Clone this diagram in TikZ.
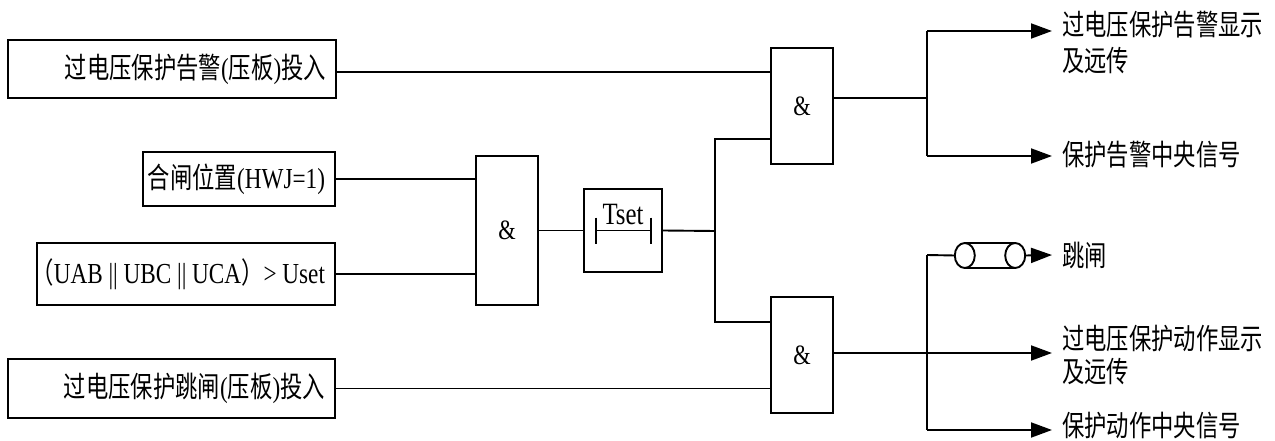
\documentclass[tikz,border=0pt]{standalone}
\usepackage{fontspec}
\setmainfont{Liberation Serif}[FakeStretch=0.8]
\newfontfamily\cjk{Noto Sans CJK SC}[FakeStretch=0.77]
\usetikzlibrary{arrows.meta}
\newcommand\zh[1]{{\cjk #1}}
\newcommand\rt[2]{\makebox[#1][r]{#2}}
\tikzset{
  wire/.style={line width=1.9pt},
  outarrow/.style={wire, -{Triangle[length=21pt,width=15pt]}},
  inbox/.style={draw, line width=1.9pt, inner xsep=10pt, inner ysep=0pt, font=\fontsize{29}{34}\selectfont},
  gate/.style={draw, line width=1.9pt, minimum width=62pt, minimum height=116pt, inner sep=0pt, font=\fontsize{28}{30}\selectfont},
  outtext/.style={anchor=west, align=left, inner sep=0pt, font=\cjk\fontsize{29}{36}\selectfont},
}
\begin{document}
\begin{tikzpicture}[x=1pt,y=-1pt]
\useasboundingbox (0,0) rectangle (1275,441);
% input boxes
\node[inbox, minimum height=58pt] (b1) at (172,69) {\rt{308pt}{\zh{过电压保护告警}(\zh{压板})\zh{投入}}};
\node[inbox, minimum height=54pt] (b2) at (239,179) {\rt{172pt}{\zh{合闸位置}(HWJ=1)}};
\node[inbox, minimum height=62pt] (b3) at (186,274) {\rt{278pt}{\zh{（}UAB || UBC || UCA\zh{）}> Uset}};
\node[inbox, minimum height=59pt] (b4) at (171.5,388.5) {\rt{307pt}{\zh{过电压保护跳闸}(\zh{压板})\zh{投入}}};
% gates
\node[gate] (g1) at (802,106) {\&};
\node[gate, minimum height=149pt] (gm) at (507,230.5) {\&};
\node[gate] (g2) at (802,355) {\&};
% timer
\node[draw, wire, minimum width=78pt, minimum height=83pt, inner sep=0pt] (tb) at (623,230.5) {};
\node[anchor=base, inner sep=0pt, font=\fontsize{31}{32}\selectfont] (tl) at (623,225) {Tset};
\draw[wire] ([shift={(-27,0)}]tb.center) -- ([shift={(28,0)}]tb.center);
\draw[wire] ([shift={(-27,-13)}]tb.center) -- ([shift={(-27,13)}]tb.center);
\draw[wire] ([shift={(28,-13)}]tb.center) -- ([shift={(28,13)}]tb.center);
% junction coordinates
\coordinate (ja) at (715,139);
\coordinate (jm) at (715,231);
\coordinate (jb) at (715,322);
\coordinate (k1) at (927,98);
\coordinate (k1t) at (927,31);
\coordinate (k1b) at (927,156);
\coordinate (k2t) at (927,255);
\coordinate (k2m) at (927,353);
\coordinate (k2b) at (927,430);
\coordinate (e1) at (1052,31);
\coordinate (e2) at (1052,156);
\coordinate (e3) at (1052,255);
\coordinate (e4) at (1052,353);
\coordinate (e5) at (1052,430);
% input wires
\draw[wire] (b1.east |- 0,72) -- (g1.west |- 0,72);
\draw[wire] (b2.east) -- (b2.east -| gm.west);
\draw[wire] (b3.east) -- (b3.east -| gm.west);
\draw[wire] (gm.east) -- (tb.west);
\draw[wire] (tb.east) -- (jm);
\draw[wire] (g1.west |- ja) -- (ja) -- (jb) -- (jb -| g2.west);
\draw[wire] (b4.east) -- (b4.east -| g2.west);
% outputs of g1
\draw[wire] (g1.east |- k1) -- (k1);
\draw[wire] (k1t) -- (k1b);
\draw[outarrow] (k1t) -- (e1);
\draw[outarrow] (k1b) -- (e2);
% outputs of g2
\draw[outarrow] (g2.east |- k2m) -- (e4);
\draw[wire] (k2t) -- (k2b);
\draw[outarrow] (k2b) -- (e5);
% cylinder
\node[minimum width=70pt, minimum height=25pt, inner sep=0pt] (cyl) at (990,255.5) {};
\draw[wire] (k2t) -- (cyl.west);
\draw[wire] ([xshift=10pt]cyl.west) ellipse [x radius=10pt, y radius=12.5pt];
\draw[wire] ([xshift=-10pt]cyl.east) ellipse [x radius=10pt, y radius=12.5pt];
\draw[wire] ([xshift=10pt]cyl.north west) -- ([xshift=-10pt]cyl.north east);
\draw[wire] ([xshift=10pt]cyl.south west) -- ([xshift=-10pt]cyl.south east);
\draw[outarrow] (cyl.east) -- (e3);
% output texts
\node[outtext] (o1) at (1062,42) {过电压保护告警显示\\及远传};
\node[outtext] (o2) at (1062,155) {保护告警中央信号};
\node[outtext] (o3) at (1062,255) {跳闸};
\node[outtext, font=\cjk\fontsize{29}{33}\selectfont] (o4) at (1062,354.5) {过电压保护动作显示\\及远传};
\node[outtext] (o5) at (1062,426) {保护动作中央信号};
\end{tikzpicture}
\end{document}
